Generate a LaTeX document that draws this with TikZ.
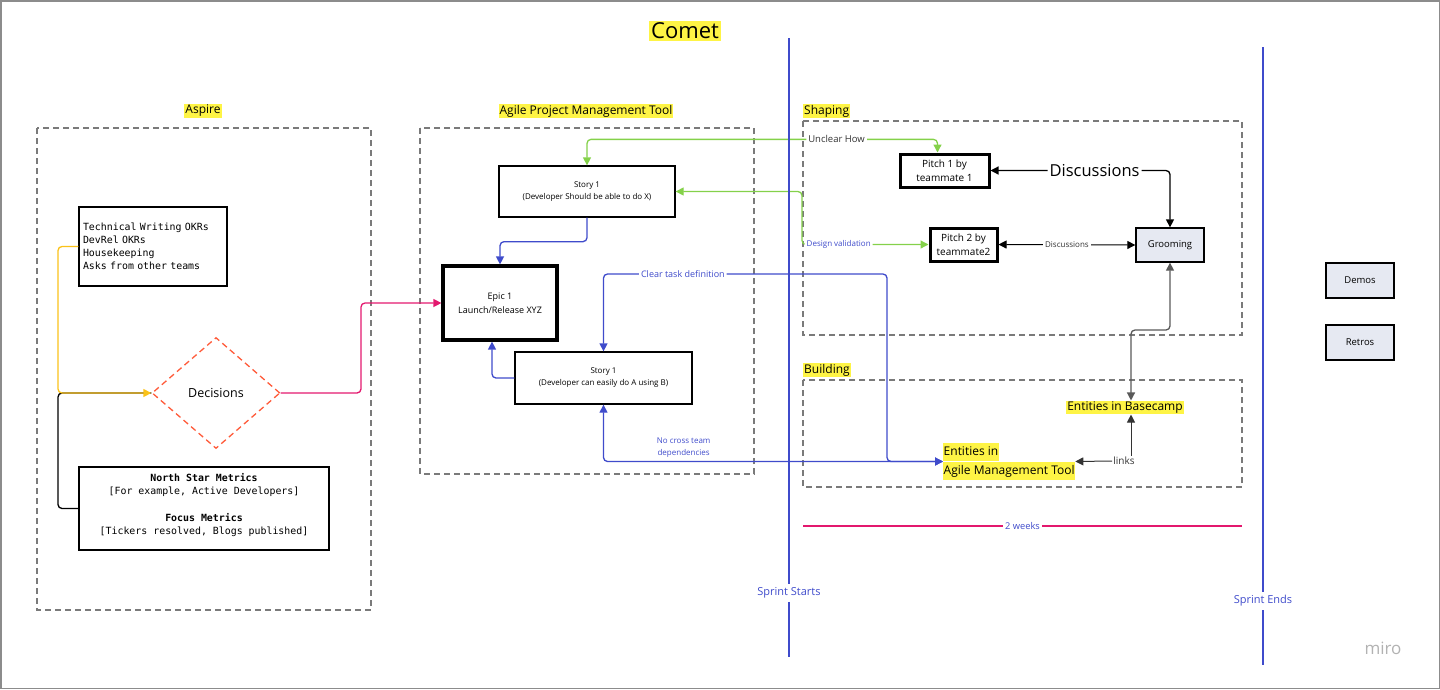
\documentclass[tikz,border=0pt]{standalone}
\usepackage{fontspec}
\setmainfont{Open Sans}
\setmonofont{DejaVu Sans Mono}
\usepackage{tikz}
\usetikzlibrary{positioning, calc, shapes.geometric}
\usetikzlibrary{arrows.meta}
\definecolor{hlyellow}{HTML}{FEF445}
\definecolor{miroblue}{HTML}{3F4BCB}
\definecolor{mirogreen}{HTML}{84D14A}
\definecolor{miropink}{HTML}{E3186E}
\definecolor{miroorange}{HTML}{FF5B3A}
\definecolor{miroamber}{HTML}{FAC21A}
\definecolor{framegray}{HTML}{7A7A7A}
\definecolor{cardfill}{HTML}{E6E9F2}
\tikzset{>={Triangle[length=8pt,width=8pt]}}
\tikzset{
	groupframe/.style={draw=framegray, line width=1.3pt, dash pattern=on 6pt off 4pt},
	hl/.style={fill=hlyellow, inner sep=1pt, font=\fontsize{12}{14}\selectfont},
	card/.style={draw, line width=1.3pt, align=center, inner sep=0pt},
	pitchcard/.style={card, line width=3pt, font=\fontsize{10}{14}\selectfont},
	greycard/.style={card, fill=cardfill, font=\fontsize{9.5}{12}\selectfont},
	conn/.style={line width=1.3pt, rounded corners=4pt},
	sprintline/.style={draw=miroblue, line width=2.5pt},
	connlabel/.style={fill=white, inner sep=2pt}
}
\setlength{\fboxsep}{0.5pt}

\begin{document}
\begin{tikzpicture}[x=1pt,y=-1pt]
	\useasboundingbox (0,0) rectangle (1440,689);
	\draw[draw=black!45, line width=1.5pt] (0.75,0.75) rectangle (1439.25,688.25);
	\node[hl, inner sep=2pt, font=\fontsize{22}{26}\selectfont] (comet) at (685,31) {Comet};

	\node[hl] (aspire) at (203,111) {Aspire};
	\draw[groupframe] (37,128) rectangle (371,610);
	\node[card, inner xsep=4pt, text width=140pt, minimum height=79pt, align=left, font=\ttfamily\fontsize{9.9}{13}\selectfont] (okrs) at (153,246.5) {Technical Writing OKRs\\DevRel OKRs\\Housekeeping\\Asks from other teams};
	\node[diamond, draw=miroorange, line width=1.3pt, dash pattern=on 6pt off 4pt, aspect=1.15, minimum width=128pt, minimum height=111pt, inner sep=0pt, font=\fontsize{12.5}{15}\selectfont] (decide) at (216,393) {Decisions};
	\node[card, minimum width=250pt, minimum height=83pt, font=\ttfamily\fontsize{9.9}{13}\selectfont] (metrics) at (204,508.5) {\textbf{North Star Metrics}\\{[For example, Active Developers]}\\[14pt]\textbf{Focus Metrics}\\{[Tickers resolved, Blogs published]}\\[-3pt]\mbox{}};
	\coordinate (asprail) at (58,393);
	\coordinate (pinkbend) at (361,393);

	\node[hl] (agile) at (586,111) {Agile Project Management Tool};
	\draw[groupframe] (420,128) rectangle (754,474);
	\node[card, minimum width=176pt, minimum height=51pt, font=\fontsize{8}{12}\selectfont] (storyx) at (587,191.5) {Story 1\\(Developer Should be able to do X)};
	\node[card, line width=3.2pt, minimum width=114pt, minimum height=74pt, font=\fontsize{9}{14}\selectfont] (epic) at (500,303) {Epic 1\\Launch/Release XYZ};
	\node[card, minimum width=177pt, minimum height=52pt, font=\fontsize{8}{12}\selectfont] (storyab) at (603.5,378) {Story 1\\(Developer can easily do A using B)};

	\node[hl, anchor=west] (shaping) at (803,111) {Shaping};
	\draw[groupframe] (803,121) rectangle (1242,335);
	\node[pitchcard, minimum width=89pt, minimum height=33pt] (pitchone) at (944.5,170.5) {Pitch 1 by\\teammate 1};
	\node[pitchcard, minimum width=67pt, minimum height=33pt] (pitchtwo) at (963.5,244.5) {Pitch 2 by\\teammate2};
	\node[greycard, minimum width=68pt, minimum height=34pt] (grooming) at (1170,245) {Grooming};

	\node[hl, anchor=west] (building) at (803,370) {Building};
	\draw[groupframe] (803,380) rectangle (1242,487);
	\node[hl] (basecamp) at (1125,407.5) {Entities in Basecamp};
	\node[inner sep=0pt, anchor=west, align=left, font=\fontsize{12}{17}\selectfont] (entagile) at (943,461.5) {\colorbox{hlyellow}{\strut Entities in}\\\colorbox{hlyellow}{\strut Agile Management Tool}};
	\node[inner sep=1pt, text=black!80, font=\fontsize{10}{12}\selectfont] (links) at (1124,461) {links};
	\coordinate (railbend) at (1131,330);
	\coordinate (greenbend) at (802,191.5);
	\coordinate (cleartop) at (887,274);

	\node[greycard, minimum width=68pt, minimum height=35pt] (demos) at (1360,280.5) {Demos};
	\node[greycard, minimum width=68pt, minimum height=35pt] (retros) at (1360,342.5) {Retros};

	\draw[conn] (metrics.west) -| (asprail) -- (decide.west);
	\draw[conn, draw=miroamber, ->] (okrs.west) -| (asprail) -- (decide.west);
	\draw[conn, draw=miropink, ->] (decide.east) -- (pinkbend) |- (epic.west);
	\draw[conn, draw=miroblue, ->] (storyx.south) -- ++(0,24) -| (epic.north);
	\draw[conn, draw=miroblue, ->] (storyab.west) -| ([xshift=-8pt]epic.south);
	\draw[conn, draw=miroblue, <->] (storyab.north) |- node[pos=0.64, connlabel, text=miroblue, font=\fontsize{9}{11}\selectfont] {Clear task definition} (cleartop) |- (entagile.west);
	\draw[conn, draw=miroblue, <->] (storyab.south) |- node[pos=0.618, anchor=south, inner sep=3pt, align=center, text=miroblue, font=\fontsize{8}{12}\selectfont] {No cross team\\dependencies} (entagile.west);
	\draw[conn, draw=mirogreen, <->] (storyx.north) -- ++(0,-26) -| node[pos=0.356, connlabel, text=black!80, font=\fontsize{9.5}{11}\selectfont] {Unclear How} ([xshift=-7pt]pitchone.north);
	\draw[conn, draw=mirogreen, <->] (storyx.east) -- (greenbend) |- node[pos=0.645, connlabel, text=miroblue, font=\fontsize{8}{10}\selectfont] {Design validation} (pitchtwo.west);
	\draw[conn, <->] (pitchone.east) -| node[pos=0.29, connlabel, font=\fontsize{16.5}{20}\selectfont] {Discussions} (grooming.north);
	\draw[line width=1pt, <->] (pitchtwo.east) -- node[connlabel, text=black!80, font=\fontsize{8}{10}\selectfont] {Discussions} (grooming.west);
	\draw[conn, draw=black!65, <->] (grooming.south) |- (railbend) -- (railbend |- basecamp.north);
	\draw[line width=1pt, draw=black!80, ->] (links.west) -- (entagile.east);
	\draw[line width=1pt, draw=black!80, ->] (links.north -| railbend) -- (railbend |- basecamp.south);

	\coordinate (weekstart) at (803,526);
	\coordinate (weekend) at (1242,526);
	\draw[line width=1.3pt, draw=miropink] (weekstart) -- node[connlabel, text=miroblue, font=\fontsize{9.3}{11}\selectfont] {2 weeks} (weekend);

	\node[text=miroblue, font=\fontsize{11}{13}\selectfont] (starts) at (789,593) {Sprint Starts};
	\node[text=miroblue, font=\fontsize{11}{13}\selectfont] (ends) at (1263,601) {Sprint Ends};
	\coordinate (startstop) at (789,38);
	\coordinate (startsbottom) at (789,657);
	\coordinate (endstop) at (1263,47);
	\coordinate (endsbottom) at (1263,665);
	\draw[sprintline] (startstop) -- (starts.north);
	\draw[sprintline] (starts.south) -- (startsbottom);
	\draw[sprintline] (endstop) -- (ends.north);
	\draw[sprintline] (ends.south) -- (endsbottom);

	\node[text=black!30, font=\fontsize{17}{20}\selectfont] (miro) at (1383,648) {miro};
\end{tikzpicture}
\end{document}
